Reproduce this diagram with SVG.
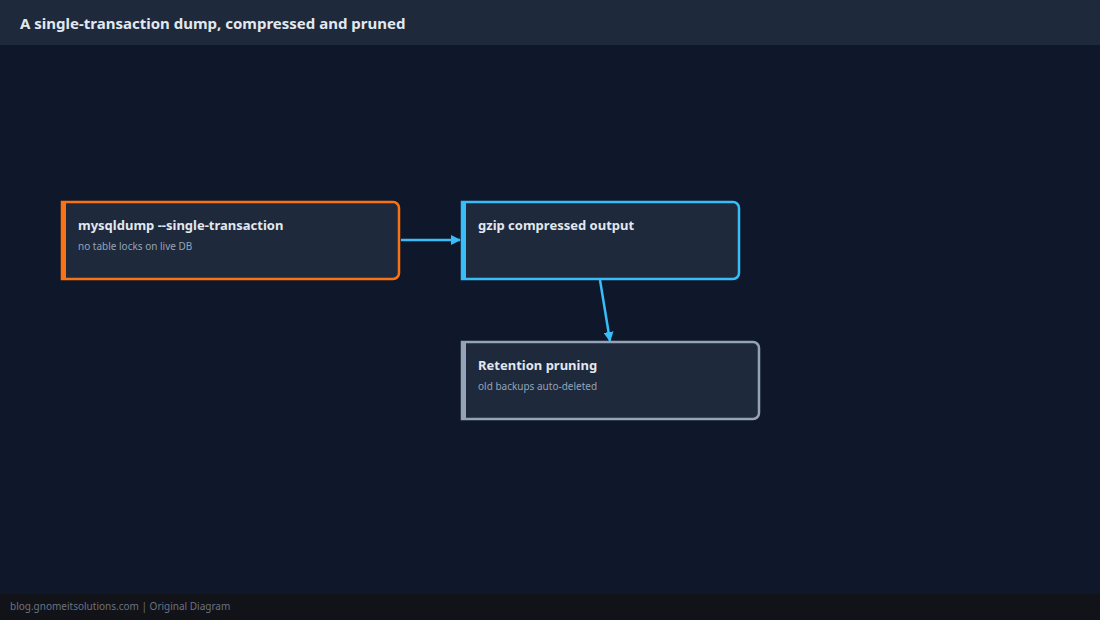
<svg xmlns="http://www.w3.org/2000/svg" width="1100" height="620" viewBox="0 0 1100 620">
<style>
text{font-family:"Noto Sans","Open Sans",sans-serif}
.t{font-size:13px;font-weight:bold;fill:#e2e8f0}
.s{font-size:10px;fill:#94a3b8}
.box{fill:#1e293b;stroke-width:2.5}
.e{stroke:#38bdf8;stroke-width:2.5;fill:none;marker-end:url(#a)}
</style>
<defs><marker id="a" viewBox="0 0 10 10" refX="9" refY="5" markerWidth="4" markerHeight="4" orient="auto"><path d="M0,0L10,5L0,10z" fill="#38bdf8"/></marker></defs>
<rect width="1100" height="620" fill="#0f172a"/>
<rect width="1100" height="45" fill="#1e293b"/>
<text x="20" y="29" style="font-size:15px;font-weight:bold;fill:#e2e8f0">A single-transaction dump, compressed and pruned</text>
<rect y="594" width="1100" height="26" fill="#111318"/>
<text x="10" y="610" style="font-size:10px;fill:#6b7280">blog.gnomeitsolutions.com | Original Diagram</text>
<g id="connectors">
<path class="e" d="M401,240H460"/>
<path class="e" d="M600,280L610,341"/>
</g>
<g id="n1"><path class="box" stroke="#f97316" d="M62,202H393a6,6 0 0 1 6,6V273a6,6 0 0 1-6,6H62z"/><rect x="61" y="201" width="5" height="79" fill="#f97316"/>
<text class="t" x="78" y="230">mysqldump --single-transaction</text><text class="s" x="78" y="250">no table locks on live DB</text></g>
<g id="n2"><path class="box" stroke="#38bdf8" d="M462,202H733a6,6 0 0 1 6,6V273a6,6 0 0 1-6,6H462z"/><rect x="461" y="201" width="5" height="79" fill="#38bdf8"/>
<text class="t" x="478" y="230">gzip compressed output</text></g>
<g id="n3"><path class="box" stroke="#94a3b8" d="M462,342H753a6,6 0 0 1 6,6V413a6,6 0 0 1-6,6H462z"/><rect x="461" y="341" width="5" height="79" fill="#94a3b8"/>
<text class="t" x="478" y="370">Retention pruning</text><text class="s" x="478" y="390">old backups auto-deleted</text></g>
</svg>
